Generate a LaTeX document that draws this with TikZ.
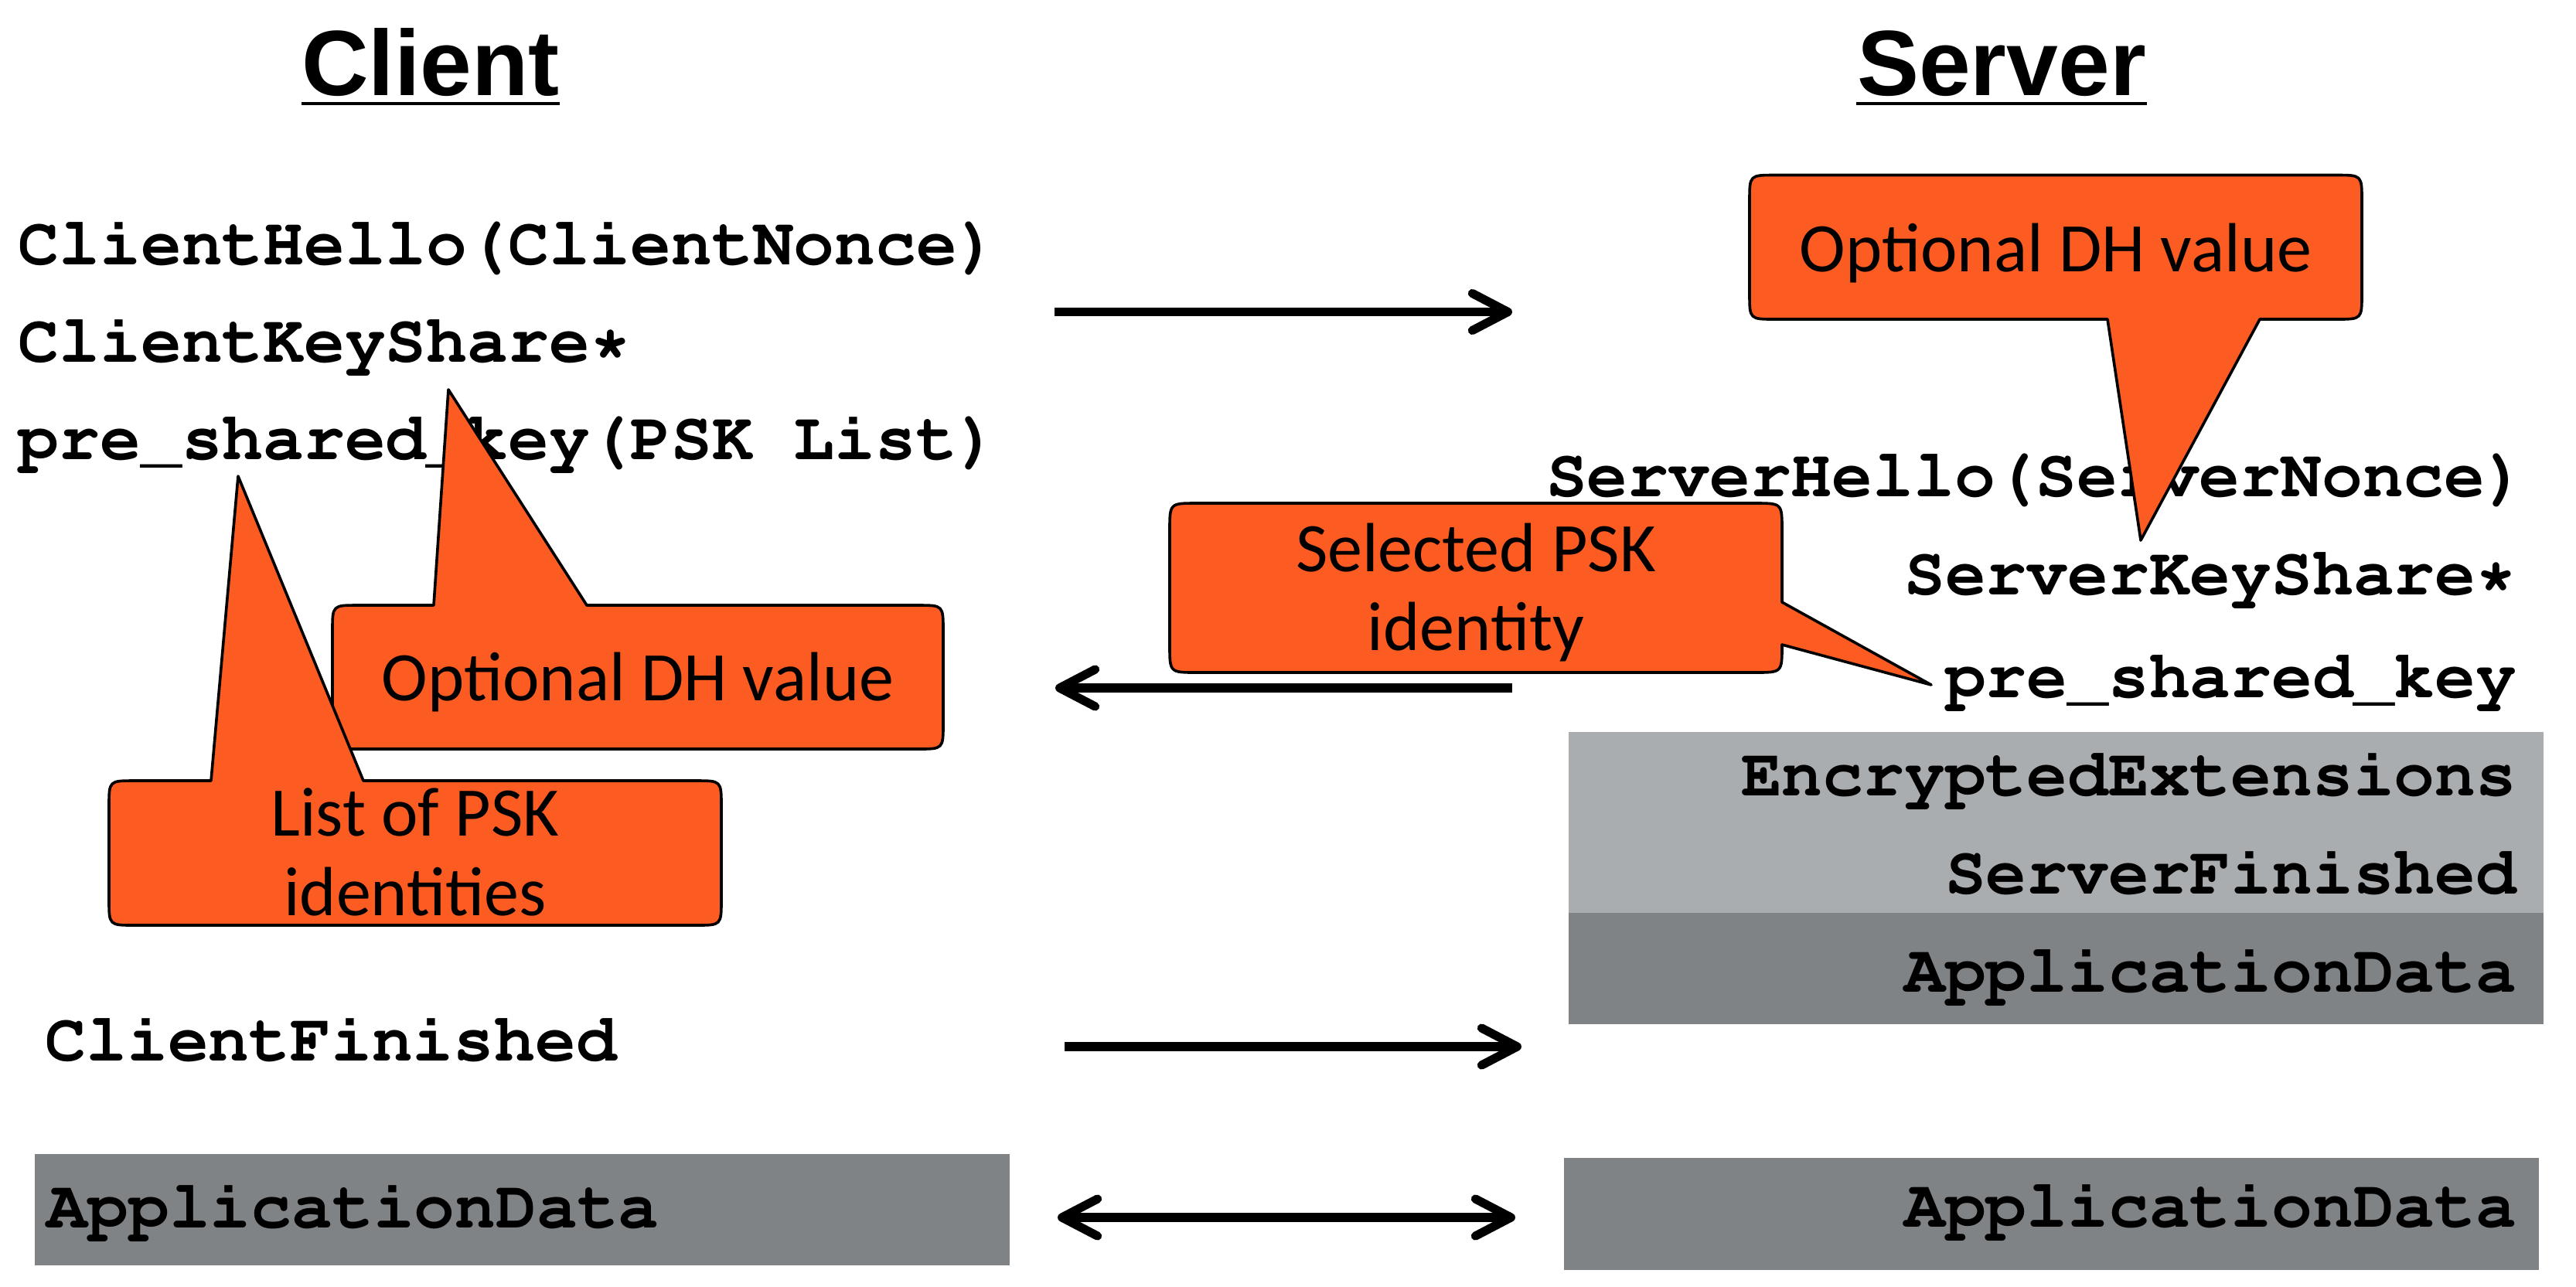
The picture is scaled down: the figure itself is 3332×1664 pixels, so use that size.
\documentclass[tikz,border=0pt]{standalone}
\usepackage[T1,TU]{fontenc}
\usepackage{fontspec}
\setmainfont{Liberation Sans}
\newfontfamily\callfont{Carlito}
\newcommand{\couriermono}{\fontencoding{T1}\fontfamily{pcr}\fontseries{b}\fontshape{n}\selectfont}
\usetikzlibrary{arrows.meta}
\definecolor{calloutorange}{RGB}{252,91,34}
\definecolor{lightgraybox}{RGB}{170,173,176}
\definecolor{darkgraybox}{RGB}{128,131,134}
\begin{document}
\begin{tikzpicture}[x=0.25pt,y=-0.25pt,
  titletext/.style={inner sep=0pt, font=\fontsize{30pt}{36pt}\selectfont\bfseries},
  msg/.style={inner sep=0pt, font=\fontsize{22pt}{26pt}\couriermono},
  calltext/.style={inner sep=0pt, font=\fontsize{22.5pt}{27pt}\selectfont\callfont},
  callshape/.style={fill=calloutorange, draw=black, line width=0.9pt, line join=round},
  flow/.style={line width=2.8pt, -{Straight Barb[length=11.5pt,width=12pt,round]}},
  flowboth/.style={line width=2.8pt, {Straight Barb[length=11.5pt,width=12pt,round]}-{Straight Barb[length=11.5pt,width=12pt,round]}}
]
\useasboundingbox (0,0) rectangle (3332,1664);

% titles
\node[titletext, anchor=base] (ctitle) at (557,123) {Client};
\node[titletext, anchor=base] (stitle) at (2589,123) {Server};
\coordinate (ulc) at (0,134);
\draw[line width=1.2pt] (ctitle.west |- ulc) -- (ctitle.east |- ulc);
\draw[line width=1.2pt] (stitle.west |- ulc) -- (stitle.east |- ulc);

% gray boxes
\fill[lightgraybox] (2029,947) rectangle (3290,1181);
\fill[darkgraybox] (2029,1181) rectangle (3290,1325);
\fill[darkgraybox] (2023,1498) rectangle (3284,1643);
\fill[darkgraybox] (45,1493) rectangle (1306,1637);

% client messages
\node[msg, anchor=base west] (chello) at (23,342) {ClientHello(ClientNonce)};
\node[msg, anchor=base west] (ckey) at (23,468) {ClientKeyShare*};
\node[msg, anchor=base west] (cpsk) at (23,594) {pre\_shared\_key(PSK List)};
\node[msg, anchor=base west] (cfin) at (58,1372) {ClientFinished};
\node[msg, anchor=base west] (cdata) at (60,1588) {ApplicationData};

% server messages
\node[msg, anchor=base east] (shello) at (3268,642) {ServerHello(ServerNonce)};
\node[msg, anchor=base east] (skey) at (3256,769) {ServerKeyShare*};
\node[msg, anchor=base east] (spsk) at (3256,902) {pre\_shared\_key};
\node[msg, anchor=base east] (sext) at (3256,1029) {EncryptedExtensions};
\node[msg, anchor=base east] (sfin) at (3256,1156) {ServerFinished};
\node[msg, anchor=base east] (sdata1) at (3256,1283) {ApplicationData};
\node[msg, anchor=base east] (sdata2) at (3256,1587) {ApplicationData};

% arrows
\coordinate (a1s) at (1364,403.5); \coordinate (a1e) at (1956,403.5);
\coordinate (a2s) at (1956,890);   \coordinate (a2e) at (1365,890);
\coordinate (a3s) at (1377,1354);  \coordinate (a3e) at (1968,1354);
\coordinate (a4s) at (1368,1575);  \coordinate (a4e) at (1960,1575);
\draw[flow] (a1s) -- (a1e);
\draw[flow] (a2s) -- (a2e);
\draw[flow] (a3s) -- (a3e);
\draw[flowboth] (a4s) -- (a4e);

% callout A: server Optional DH value
\draw[callshape] (2296,226.5) -- (3022,226.5) .. controls (3055,226.5) .. (3055,259.5)
  -- (3055,380) .. controls (3055,413) .. (3022,413) -- (2923,413) -- (2769,699) -- (2726,413)
  -- (2296,413) .. controls (2263,413) .. (2263,380) -- (2263,259.5) .. controls (2263,226.5) .. (2296,226.5) -- cycle;
\node[calltext, anchor=base] (calA) at (2659,351.5) {Optional DH value};

% callout B: Selected PSK identity
\draw[callshape] (1548,651) -- (2270,651) .. controls (2305,651) .. (2305,686)
  -- (2305,779) -- (2498,886) -- (2305,834) -- (2305,835) .. controls (2305,870) .. (2270,870)
  -- (1548,870) .. controls (1513,870) .. (1513,835) -- (1513,686) .. controls (1513,651) .. (1548,651) -- cycle;
\node[calltext, anchor=base] (calB1) at (1909,739) {Selected PSK};
\node[calltext, anchor=base] (calB2) at (1909,841) {identity};

% callout C: client Optional DH value
\draw[callshape] (463,783) -- (561,783) -- (580,504) -- (759,783) -- (1187,783) .. controls (1220,783) .. (1220,816)
  -- (1220,936) .. controls (1220,969) .. (1187,969) -- (463,969) .. controls (430,969) .. (430,936)
  -- (430,816) .. controls (430,783) .. (463,783) -- cycle;
\node[calltext, anchor=base] (calC) at (825,906) {Optional DH value};

% callout D: List of PSK identities
\draw[callshape] (174,1010) -- (273,1010) -- (308,616) -- (470,1010) -- (900,1010) .. controls (933,1010) .. (933,1043)
  -- (933,1164) .. controls (933,1197) .. (900,1197) -- (174,1197) .. controls (141,1197) .. (141,1164)
  -- (141,1043) .. controls (141,1010) .. (174,1010) -- cycle;
\node[calltext, anchor=base] (calD1) at (537,1081) {List of PSK};
\node[calltext, anchor=base] (calD2) at (537,1184) {identities};
\end{tikzpicture}
\end{document}
